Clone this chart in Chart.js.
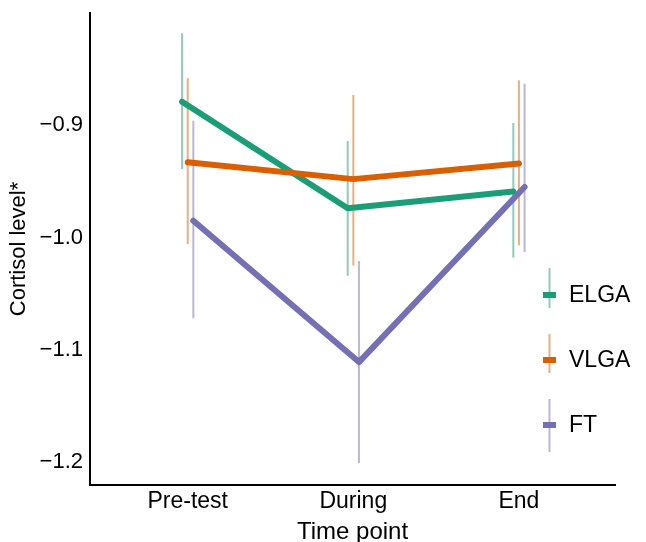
<!DOCTYPE html>
<html>
<head>
<meta charset="utf-8">
<script src="https://cdn.jsdelivr.net/npm/chart.js@4.4.1/dist/chart.umd.min.js"></script>
<style>
  html, body { margin: 0; padding: 0; background: #fff; }
  #wrap { width: 646px; height: 542px; }
</style>
</head>
<body>
<div id="wrap"><canvas id="chart" width="646" height="542"></canvas></div>
<script>
// data
const timePoints = ["Pre-test", "During", "End"];
const groups = ["ELGA", "VLGA", "FT"];
const yTicks = [-1.2, -1.1, -1.0, -0.9];

const elgaMean = [-0.879, -0.974, -0.959];
const elgaLow  = [-0.939, -1.034, -1.018];
const elgaHigh = [-0.818, -0.914, -0.898];

const vlgaMean = [-0.933, -0.948, -0.934];
const vlgaLow  = [-1.006, -1.025, -1.007];
const vlgaHigh = [-0.858, -0.873, -0.860];

const ftMean = [-0.985, -1.111, -0.955];
const ftLow  = [-1.072, -1.201, -1.013];
const ftHigh = [-0.896, -1.021, -0.863];

const colors = ["#1b9e77", "#d95f02", "#7570b3"];
const barColors = ["rgba(27,158,119,0.5)", "rgba(217,95,2,0.5)", "rgba(117,112,179,0.5)"];
const dodge = [-0.034, 0, 0.034];

const means = [elgaMean, vlgaMean, ftMean];
const lows = [elgaLow, vlgaLow, ftLow];
const highs = [elgaHigh, vlgaHigh, ftHigh];

const FONT = "'Liberation Sans', Arial, sans-serif";

const datasets = [];
groups.forEach((g, gi) => {
  // error bars, one small dataset each
  timePoints.forEach((t, ti) => {
    const x = ti + 1 + dodge[gi];
    datasets.push({
      label: g + " err " + t,
      data: [{x: x, y: lows[gi][ti]}, {x: x, y: highs[gi][ti]}],
      borderColor: barColors[gi],
      borderWidth: 2,
      pointRadius: 0,
      order: 10
    });
  });
  datasets.push({
    label: g,
    data: means[gi].map((v, ti) => ({x: ti + 1 + dodge[gi], y: v})),
    borderColor: colors[gi],
    borderWidth: 6,
    borderCapStyle: "round",
    borderJoinStyle: "round",
    pointRadius: 0,
    order: 2 - gi
  });
});

// legend drawn inside the plot, like the ggplot one
const keyLegend = {
  id: "keyLegend",
  afterDatasetsDraw(chart) {
    const ctx = chart.ctx;
    const rows = [
      {y: 295, top: 268, bottom: 308},
      {y: 360, top: 334, bottom: 373},
      {y: 425, top: 399, bottom: 452}
    ];
    ctx.save();
    groups.forEach((g, i) => {
      const r = rows[i];
      ctx.strokeStyle = barColors[i];
      ctx.lineWidth = 2;
      ctx.beginPath();
      ctx.moveTo(549.5, r.top);
      ctx.lineTo(549.5, r.bottom);
      ctx.stroke();
      ctx.strokeStyle = colors[i];
      ctx.lineWidth = 6;
      ctx.beginPath();
      ctx.moveTo(543, r.y);
      ctx.lineTo(556, r.y);
      ctx.stroke();
      ctx.fillStyle = "#000";
      ctx.font = "23px " + FONT;
      ctx.textBaseline = "middle";
      ctx.textAlign = "left";
      ctx.fillText(g, 569, r.y + 1);
    });
    ctx.restore();
  }
};

new Chart(document.getElementById("chart"), {
  type: "line",
  data: { datasets: datasets },
  options: {
    responsive: false,
    animation: false,
    layout: { padding: { top: 13, right: 31, left: 0, bottom: 0 } },
    plugins: { legend: { display: false }, tooltip: { enabled: false } },
    scales: {
      x: {
        type: "linear",
        min: 0.41,
        max: 3.58,
        afterBuildTicks: (s) => { s.ticks = timePoints.map((t, i) => ({value: i + 1})); },
        afterFit: (s) => { s.height = 57; s.paddingLeft = 0; s.paddingRight = 0; },
        grid: { display: false, drawTicks: false },
        border: { color: "#000", width: 2 },
        ticks: {
          padding: 3,
          color: "#000",
          font: { family: FONT, size: 23 },
          callback: (v) => timePoints[v - 1]
        },
        title: {
          display: true,
          text: "Time point",
          color: "#000",
          padding: { top: 0, bottom: -2 },
          font: { family: FONT, size: 24, lineHeight: 1 }
        }
      },
      y: {
        type: "linear",
        min: -1.2205,
        max: -0.80,
        afterBuildTicks: (s) => { s.ticks = yTicks.map(v => ({value: v})); },
        afterFit: (s) => { s.width = 90; s.paddingTop = 0; s.paddingBottom = 0; },
        grid: { display: false, drawTicks: false },
        border: { color: "#000", width: 2 },
        ticks: {
          padding: 7,
          color: "#000",
          font: { family: FONT, size: 22 },
          callback: (v) => (v < 0 ? "\u2212" : "") + Math.abs(v).toFixed(1)
        },
        title: {
          display: true,
          text: "Cortisol level*",
          color: "#000",
          padding: { top: 8, bottom: 0 },
          font: { family: FONT, size: 22, lineHeight: 1 }
        }
      }
    }
  },
  plugins: [keyLegend]
});
</script>
</body>
</html>
